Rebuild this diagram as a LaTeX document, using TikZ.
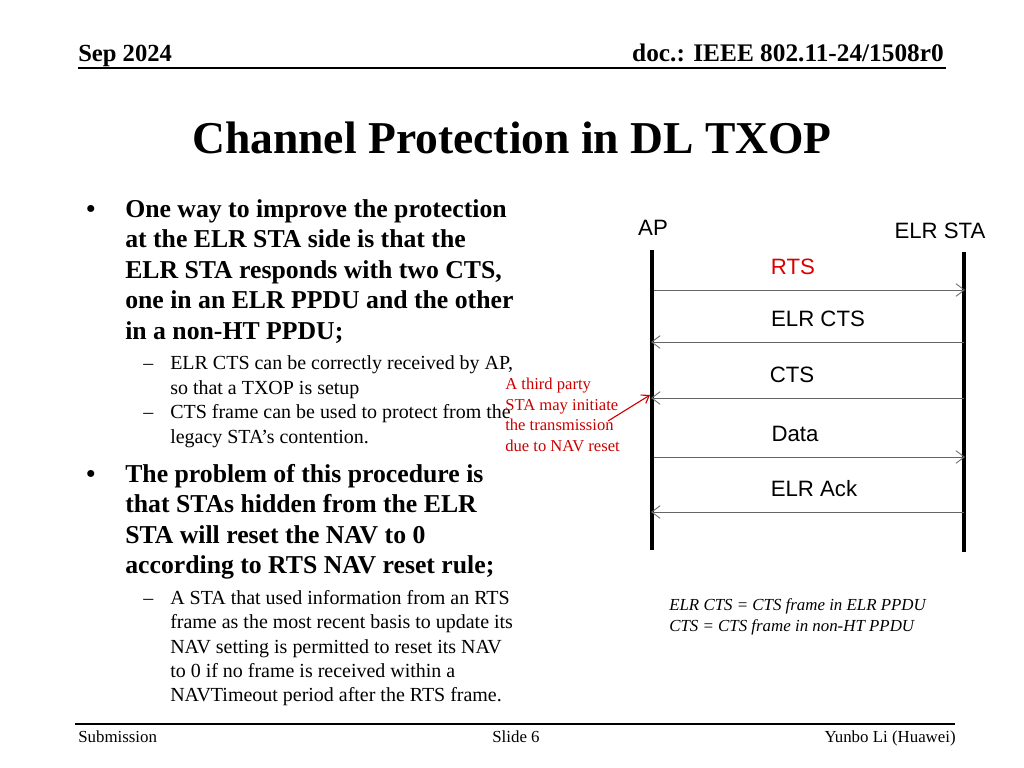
\documentclass[tikz,border=0pt]{standalone}
\usepackage{fontspec}
\setmainfont{Liberation Serif}
\newfontfamily\diagfont{Liberation Sans}
\usetikzlibrary{arrows.meta}
\tikzset{
  bodytxt/.style={anchor=base west,inner sep=0pt,font=\fontsize{18.3}{20}\selectfont\bfseries},
  subtxt/.style={anchor=base west,inner sep=0pt,font=\fontsize{14.2}{15}\selectfont},
  lbl/.style={inner sep=0pt,font=\diagfont\fontsize{15.8}{17}\selectfont},
  lifeline/.style={line width=3.5pt},
  msg/.style={draw=gray!80!black,line width=0.6pt,-{Straight Barb[length=6pt,width=9pt]}},
  note/.style={anchor=base west,inner sep=0pt,text=red!80!black,font=\fontsize{11.8}{12}\selectfont}
}
\begin{document}
\begin{tikzpicture}[x=0.025cm,y=-0.025cm]
\useasboundingbox (0,0) rectangle (1024,768);
% header and footer
\node[anchor=base west,inner sep=0pt,font=\fontsize{17.5}{19}\selectfont\bfseries] (date) at (78,62) {Sep 2024};
\node[anchor=base east,inner sep=0pt,font=\fontsize{18}{19}\selectfont\bfseries] (doc) at (944,62) {doc.: IEEE 802.11-24/1508r0};
\draw[line width=0.8pt] (78,68) -- (946,68);
\draw[line width=0.8pt] (75,724) -- (955,724);
\node[anchor=base west,inner sep=0pt,font=\fontsize{12}{13}\selectfont] (sub) at (78,742) {Submission};
\node[anchor=base,inner sep=0pt,font=\fontsize{12}{13}\selectfont] (slide) at (516,742) {Slide 6};
\node[anchor=base east,inner sep=0pt,font=\fontsize{12}{13}\selectfont] (auth) at (956,742) {Yunbo Li (Huawei)};
% title
\node[anchor=base,inner sep=0pt,font=\fontsize{32.4}{36}\selectfont\bfseries] (title) at (512,153) {Channel Protection in DL TXOP};
% first bullet
\node[bodytxt] (b1) at (86,217) {\textbullet};
\foreach \t [count=\i] in {One way to improve the protection,at the ELR STA side is that the,{ELR STA responds with two CTS,},one in an ELR PPDU and the other,in a non-HT PPDU;}
  \node[bodytxt] (b1l\i) at (125,186.5+30.5*\i) {\t};
\foreach \t [count=\i] in {{ELR CTS can be correctly received by AP,},so that a TXOP is setup,CTS frame can be used to protect from the,legacy STA’s contention.}
  \node[subtxt] (s1l\i) at (170,345+\i*24.5) {\t};
\node[subtxt] (d1) at (143,369.5) {--};
\node[subtxt] (d2) at (143,418.5) {--};
% second bullet
\node[bodytxt] (b2) at (86,482) {\textbullet};
\foreach \t [count=\i] in {The problem of this procedure is,that STAs hidden from the ELR,STA will reset the NAV to 0,according to RTS NAV reset rule;}
  \node[bodytxt] (b2l\i) at (125,451.5+30.5*\i) {\t};
\node[subtxt] (d3) at (143,604.5) {--};
\foreach \t [count=\i] in {A STA that used information from an RTS,frame as the most recent basis to update its,NAV setting is permitted to reset its NAV,to 0 if no frame is received within a,NAVTimeout period after the RTS frame.}
  \node[subtxt] (s2l\i) at (170,580.2+\i*24.3) {\t};
% sequence diagram
\node[lbl] (ap) at (653,228) {AP};
\node[lbl] (sta) at (940,231) {ELR STA};
\coordinate (apT) at (652,250); \coordinate (apB) at (652,550);
\coordinate (stT) at (964,252); \coordinate (stB) at (964,552);
\draw[lifeline] (apT) -- (apB);
\draw[lifeline] (stT) -- (stB);
\foreach \y/\dir/\txt/\xx/\col in {290/r/RTS/793/red!85!black,342/l/ELR CTS/818/black,398/l/CTS/792/black,457/r/Data/795/black,512/l/ELR Ack/814/black}{
  \node[lbl,text=\col] at (\xx,\y-23) {\txt};
  \if\dir r
    \draw[msg] (654,\y) -- (965,\y);
  \else
    \draw[msg] (964,\y) -- (651,\y);
  \fi
}
\node[note] (n1) at (505,389) {A third party};
\node[note] (n2) at (505,410) {STA may initiate};
\node[note] (n3) at (505,430) {the transmission};
\node[note] (n4) at (505,451) {due to NAV reset};
\coordinate (tip) at (650,395);
\draw[red!80!black,line width=0.8pt,-{Straight Barb[length=5pt,width=7pt]}] (608,421) -- (tip);
\node[anchor=base west,inner sep=0pt,font=\fontsize{12}{13}\selectfont\itshape] (k1) at (669,610) {ELR CTS = CTS frame in ELR PPDU};
\node[anchor=base west,inner sep=0pt,font=\fontsize{12}{13}\selectfont\itshape] (k2) at (669,631) {CTS = CTS frame in non-HT PPDU};
\end{tikzpicture}
\end{document}
